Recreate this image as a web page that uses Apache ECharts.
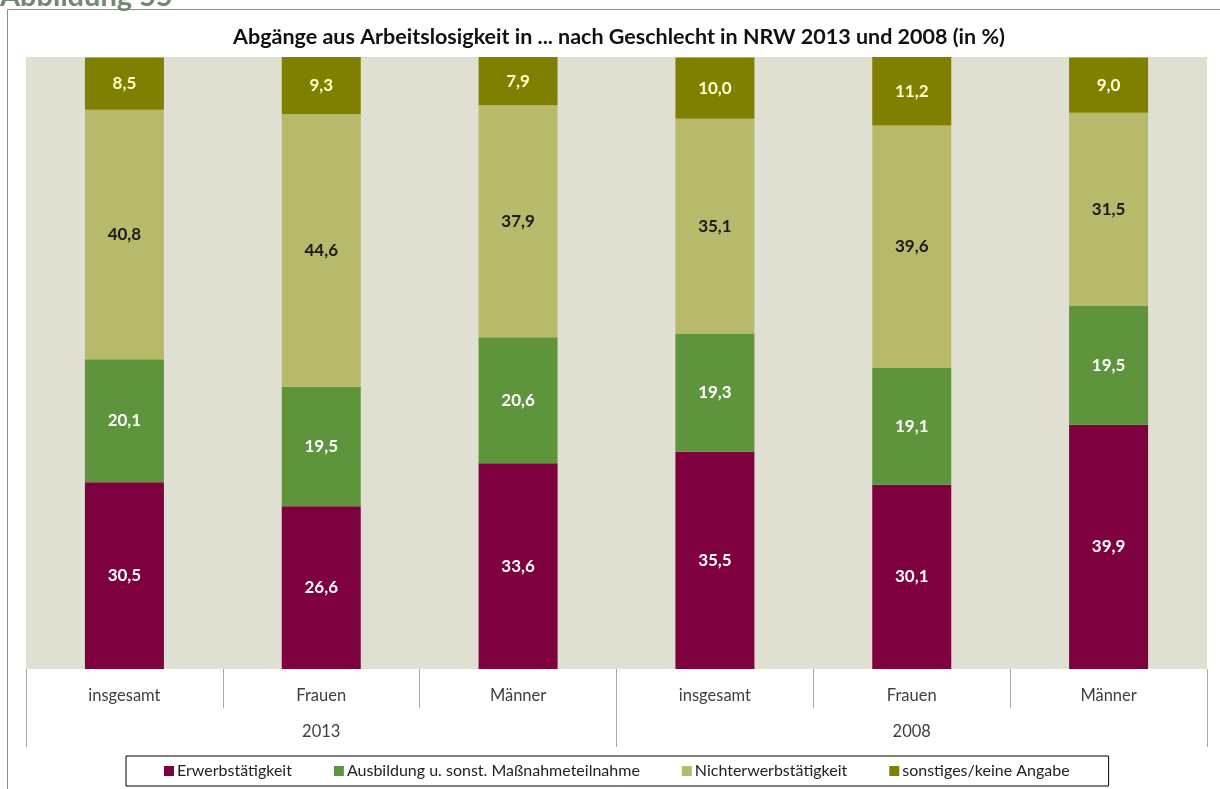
<!DOCTYPE html>
<html>
<head>
<meta charset="utf-8">
<script src="https://cdn.jsdelivr.net/npm/echarts@6/dist/echarts.min.js"></script>
<style>
  html, body { margin: 0; padding: 0; background: #ffffff; }
  #chart { width: 1220px; height: 789px; }
</style>
</head>
<body>
<div id="chart"></div>
<script>
var categories = ['insgesamt', 'Frauen', 'Männer', 'insgesamt', 'Frauen', 'Männer'];
var years = ['2013', '2008'];
var seriesNames = ['Erwerbstätigkeit', 'Ausbildung u. sonst. Maßnahmeteilnahme', 'Nichterwerbstätigkeit', 'sonstiges/keine Angabe'];
var erwerb = [30.5, 26.6, 33.6, 35.5, 30.1, 39.9];
var ausbildung = [20.1, 19.5, 20.6, 19.3, 19.1, 19.5];
var nichterwerb = [40.8, 44.6, 37.9, 35.1, 39.6, 31.5];
var sonstiges = [8.5, 9.3, 7.9, 10.0, 11.2, 9.0];

var FONT = 'Lato';
var colors = ['#7f003f', '#5e943c', '#b7ba6b', '#808000'];
var labelColors = ['#ffffff', '#ffffff', '#1a1a1a', '#ffffcc'];
var dataSets = [erwerb, ausbildung, nichterwerb, sonstiges];

function fmt(p) { return p.value.toFixed(1).replace('.', ','); }

var series = dataSets.map(function (d, i) {
  return {
    name: seriesNames[i],
    type: 'bar',
    stack: 'total',
    xAxisIndex: 0,
    barWidth: 79,
    data: d,
    itemStyle: { color: colors[i] },
    label: {
      show: true,
      position: 'inside',
      formatter: fmt,
      color: labelColors[i],
      fontFamily: FONT,
      fontWeight: 'bold',
      fontSize: 17
    },
    emphasis: { disabled: true }
  };
});

var chart = echarts.init(document.getElementById('chart'));
chart.setOption({
  animation: false,
  backgroundColor: '#ffffff',
  textStyle: { fontFamily: FONT },
  title: {
    text: 'Abgänge aus Arbeitslosigkeit in ... nach Geschlecht in NRW 2013 und 2008 (in %)',
    left: 614,
    textAlign: 'center',
    top: 21,
    textStyle: { fontFamily: FONT, fontWeight: 'bold', fontSize: 21.5, color: '#111111' }
  },
  graphic: [
    { type: 'line', shape: { x1: 7.5, y1: 9.5, x2: 1220, y2: 9.5 }, style: { stroke: '#8c8c8c', lineWidth: 1 }, silent: true },
    { type: 'line', shape: { x1: 7.5, y1: 9.5, x2: 7.5, y2: 789 }, style: { stroke: '#8c8c8c', lineWidth: 1 }, silent: true },
    { type: 'text', left: 0, top: -18, style: { text: 'Abbildung 55', fill: '#6f8b6f', font: 'bold 29px ' + FONT }, silent: true }
  ],
  legend: {
    data: seriesNames,
    left: 126,
    top: 756,
    padding: [7, 39, 7, 38],
    itemGap: 42,
    itemWidth: 10,
    itemHeight: 10,
    icon: 'rect',
    borderColor: '#000000',
    borderWidth: 1,
    textStyle: { fontFamily: FONT, fontSize: 16, color: '#222222', padding: [0, 0, 0, -2] }
  },
  grid: {
    left: 26, right: 13, top: 57, bottom: 120,
    show: true,
    backgroundColor: '#e0e0d2',
    borderWidth: 0
  },
  xAxis: [
    {
      type: 'category',
      data: categories,
      position: 'bottom',
      axisLine: { show: false },
      axisTick: { show: true, interval: 0, alignWithLabel: false, length: 39, lineStyle: { color: '#a6a6a6' } },
      axisLabel: { interval: 0, margin: 18, fontFamily: FONT, fontSize: 16.5, color: '#404040' },
      splitLine: { show: false }
    },
    {
      type: 'category',
      data: years,
      position: 'bottom',
      offset: 0,
      axisLine: { show: false },
      axisTick: { show: true, interval: 0, alignWithLabel: false, length: 78, lineStyle: { color: '#a6a6a6' } },
      axisLabel: { interval: 0, margin: 54, fontFamily: FONT, fontSize: 16.5, color: '#404040' },
      splitLine: { show: false }
    }
  ],
  yAxis: {
    type: 'value',
    min: 0,
    max: 100,
    show: false,
    splitLine: { show: false }
  },
  series: series
});
</script>
</body>
</html>
